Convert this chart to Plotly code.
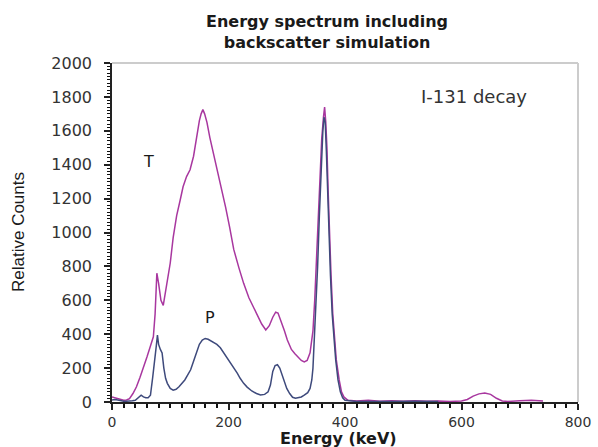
import plotly.graph_objects as go

# Total (T) spectrum including backscatter
t_energy = [0, 5, 10, 15, 20, 25, 30, 36, 42, 48, 54, 60, 66, 71, 74, 77, 80, 84, 88, 92, 96, 100,
            105, 111, 117, 122, 128, 134, 140, 145, 150, 153, 156, 159, 163, 168, 174, 180, 188,
            195, 202, 209, 218, 226, 235, 243, 250, 257, 264, 270, 276, 281, 285, 290, 296, 301,
            308, 314, 319, 325, 330, 335, 340, 345, 348, 351, 354, 357, 360, 363, 365, 367, 369,
            371, 373, 376, 379, 381, 385, 390, 394, 398, 405, 420, 440, 460, 480, 500, 520, 540,
            560, 580, 600, 610, 620, 630, 640, 650, 660, 670, 680, 700, 720, 740]
t_counts = [30, 25, 18, 12, 10, 12, 20, 50, 90, 145, 200, 265, 330, 385, 520, 760, 700, 600, 570,
            650, 740, 820, 970, 1100, 1190, 1270, 1330, 1370, 1450, 1560, 1660, 1700, 1725, 1700,
            1650, 1560, 1470, 1380, 1260, 1150, 1030, 900, 790, 700, 615, 560, 515, 460, 425, 450,
            500, 530, 525, 480, 420, 366, 310, 285, 266, 245, 236, 245, 290, 420, 600, 850, 1050,
            1300, 1550, 1680, 1740, 1650, 1500, 1250, 1010, 750, 520, 420, 250, 130, 60, 30, 10,
            6, 10, 5, 8, 5, 8, 4, 6, 3, 6, 15, 35, 48, 53, 45, 22, 6, 3, 8, 10, 6]

# Photopeak-only (P) spectrum
p_energy = [0, 5, 10, 15, 20, 25, 30, 35, 40, 45, 50, 54, 58, 62, 66, 70, 73, 76, 78, 80, 83, 86,
            89, 92, 95, 100, 105, 110, 115, 120, 125, 130, 135, 140, 145, 150, 155, 160, 165, 170,
            175, 180, 186, 192, 198, 204, 209, 215, 220, 226, 232, 240, 248, 255, 262, 268, 272,
            276, 280, 284, 288, 292, 296, 300, 305, 310, 315, 320, 325, 330, 336, 340, 343, 345,
            347, 350, 353, 356, 359, 362, 364, 366, 368, 370, 372, 375, 378, 381, 384, 388, 392,
            396, 400, 420, 450, 480, 520, 560]
p_counts = [12, 15, 12, 8, 5, 5, 5, 8, 10, 25, 40, 30, 25, 25, 40, 150, 260, 330, 395, 340, 310,
            290, 200, 140, 110, 80, 70, 75, 90, 110, 130, 160, 190, 240, 290, 340, 365, 375, 370,
            360, 350, 340, 320, 290, 260, 230, 206, 170, 140, 110, 88, 65, 50, 41, 45, 60, 100,
            180, 215, 220, 200, 160, 120, 80, 50, 28, 22, 25, 30, 40, 55, 80, 130, 200, 350, 525,
            800, 1100, 1400, 1600, 1680, 1650, 1480, 1250, 1000, 750, 520, 380, 250, 130, 60, 25,
            10, 3, 5, 3, 5, 3]

x_range = [0, 800]
y_range = [0, 2000]

FONT = "DejaVu Sans"

fig = go.Figure()
fig.add_trace(go.Scatter(x=t_energy, y=t_counts, mode="lines", name="T",
                         line=dict(color="#A8379F", width=1.5)))
fig.add_trace(go.Scatter(x=p_energy, y=p_counts, mode="lines", name="P",
                         line=dict(color="#3E4A7C", width=1.5)))

fig.update_layout(
    width=598, height=447,
    margin=dict(l=112, r=20, t=63, b=45, autoexpand=False),
    paper_bgcolor="white", plot_bgcolor="white",
    showlegend=False,
    title=dict(text="<b>Energy spectrum including<br>backscatter simulation</b>",
               x=327 / 598, xanchor="center", y=1 - 27 / 447, yanchor="top",
               font=dict(family=FONT, size=16, color="#1a1a1a")),
    font=dict(family=FONT, color="#333333"),
)

fig.update_xaxes(
    range=x_range, tickmode="linear", tick0=0, dtick=200, automargin=False,
    showgrid=False, zeroline=False,
    showline=True, linecolor="#222222", linewidth=1.5,
    ticks="outside", ticklen=6, tickcolor="#222222", tickwidth=1.5,
    minor=dict(tickmode="linear", tick0=0, dtick=20, ticks="outside", ticklen=4,
               tickcolor="#111111", tickwidth=1.5, showgrid=False),
    tickfont=dict(family=FONT, size=14, color="#333333"),
    ticklabelstandoff=0,
)
fig.update_yaxes(
    range=y_range, tickmode="linear", tick0=0, dtick=200, automargin=False,
    showgrid=False, zeroline=False,
    showline=True, linecolor="#222222", linewidth=1.5,
    ticks="outside", ticklen=6, tickcolor="#222222", tickwidth=1.5,
    minor=dict(tickmode="linear", tick0=0, dtick=20, ticks="outside", ticklen=3,
               tickcolor="#111111", tickwidth=1.2, showgrid=False),
    tickfont=dict(family=FONT, size=16, color="#333333"),
    ticklabelstandoff=9,
)

# axis titles
fig.add_annotation(xref="paper", yref="paper", x=(338 - 112) / 466, y=(402 - 438) / 339,
                   xanchor="center", yanchor="middle", showarrow=False,
                   text="<b>Energy (keV)</b>",
                   font=dict(family=FONT, size=16, color="#1a1a1a"))
fig.add_annotation(xref="paper", yref="paper", x=(18 - 112) / 466, y=(402 - 232) / 339,
                   xanchor="center", yanchor="middle", showarrow=False, textangle=-90,
                   text="Relative Counts",
                   font=dict(family="Liberation Sans", size=17, color="#1a1a1a"))

# light frame on top and right of plot area
fig.add_shape(type="line", xref="paper", yref="paper", x0=0, x1=1, y0=1, y1=1,
              line=dict(color="#cccccc", width=2))
fig.add_shape(type="line", xref="paper", yref="paper", x0=1, x1=1, y0=0, y1=1,
              line=dict(color="#cccccc", width=2))

fig.add_annotation(x=62, y=1420, text="T", showarrow=False,
                   font=dict(family=FONT, size=16, color="#1a1a1a"))
fig.add_annotation(x=169, y=500, text="P", showarrow=False,
                   font=dict(family=FONT, size=16, color="#1a1a1a"))
fig.add_annotation(x=621, y=1800, text="I-131 decay", showarrow=False,
                   font=dict(family=FONT, size=18, color="#333333"))

fig.write_html("out.html")
